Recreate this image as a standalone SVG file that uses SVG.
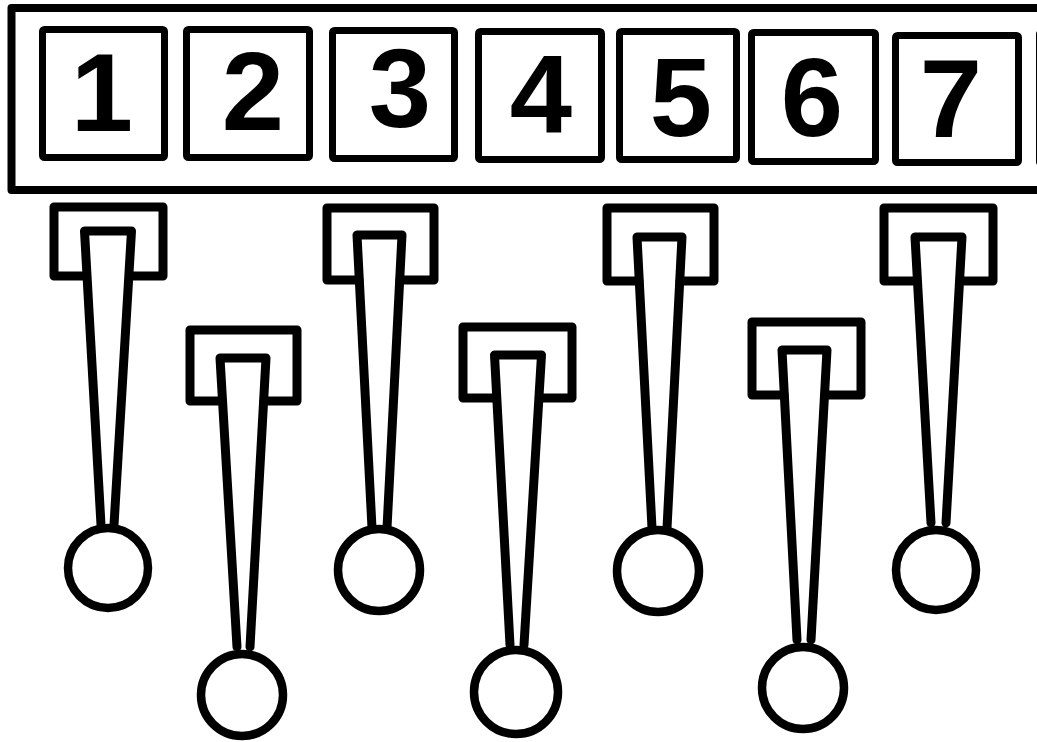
<svg xmlns="http://www.w3.org/2000/svg" width="1037" height="742" viewBox="0 0 1037 742">
<style>
.frame{fill:none;stroke:#000;stroke-width:8;stroke-linejoin:round}
.key{fill:#fff;stroke:#000;stroke-width:7;stroke-linejoin:round}
.num{font-family:"Liberation Sans",Arial,sans-serif;font-weight:bold;font-size:112px;fill:#000;text-anchor:middle}
.h{fill:none;stroke:#000;stroke-width:9;stroke-linejoin:round;stroke-linecap:round}
.ball{fill:#fff;stroke:#000;stroke-width:8.5}
</style>
<rect width="1037" height="742" fill="#fff"/>
<g id="panel">
  <rect class="frame" x="11.5" y="8" width="1060" height="182"/>
  <rect class="key" x="1039.5" y="34" width="120" height="128"/>
</g>
<g id="key1"><rect class="key" x="42.5" y="29.5" width="122" height="128" rx="2"/><text class="num" x="102" y="131">1</text></g>
<g id="key2"><rect class="key" x="186.5" y="29.5" width="123" height="128" rx="2"/><text class="num" x="253" y="130">2</text></g>
<g id="key3"><rect class="key" x="332.5" y="30.5" width="122" height="128" rx="2"/><text class="num" x="400" y="127">3</text></g>
<g id="key4"><rect class="key" x="478.5" y="31.5" width="123" height="128" rx="2"/><text class="num" x="541" y="133">4</text></g>
<g id="key5"><rect class="key" x="619.5" y="31.5" width="117" height="128" rx="2"/><text class="num" x="681" y="136">5</text></g>
<g id="key6"><rect class="key" x="751.5" y="32.5" width="124" height="129" rx="2"/><text class="num" x="812" y="136">6</text></g>
<g id="key7"><rect class="key" x="895.5" y="35.5" width="123" height="127" rx="2"/><text class="num" x="951" y="137">7</text></g>
<g id="connectors">
  <g id="hanger1">
    <path class="h" d="M86,276 L54,276 L54,207 L163,207 L163,276 L130,276"/>
    <path class="h" d="M101,525 L84.5,231 L131.5,231 L114,525"/>
    <circle class="ball" cx="108" cy="568" r="40"/>
  </g>
  <g id="hanger2">
    <path class="h" d="M222,401 L190,401 L190,330 L297,330 L297,401 L264,401"/>
    <path class="h" d="M237,647 L220,358 L266,358 L250,647"/>
    <circle class="ball" cx="242" cy="695" r="41"/>
  </g>
  <g id="hanger3">
    <path class="h" d="M359,280 L327,280 L327,208 L434,208 L434,280 L400,280"/>
    <path class="h" d="M372,528 L357,235 L402,235 L387,528"/>
    <circle class="ball" cx="379" cy="570" r="41"/>
  </g>
  <g id="hanger4">
    <path class="h" d="M496,398 L463,398 L463,327 L572,327 L572,398 L540,398"/>
    <path class="h" d="M510,645 L494.5,355 L541.5,355 L524,645"/>
    <circle class="ball" cx="516" cy="692" r="42"/>
  </g>
  <g id="hanger5">
    <path class="h" d="M639,281 L607,281 L607,208 L714,208 L714,281 L680,281"/>
    <path class="h" d="M652,528 L637,237 L682,237 L667,528"/>
    <circle class="ball" cx="658" cy="571" r="41"/>
  </g>
  <g id="hanger6">
    <path class="h" d="M784,395 L752,395 L752,322 L861,322 L861,395 L825,395"/>
    <path class="h" d="M797,640 L782,350 L827,350 L811,640"/>
    <circle class="ball" cx="803" cy="688" r="41"/>
  </g>
  <g id="hanger7">
    <path class="h" d="M917,281 L884,281 L884,208 L993,208 L993,281 L960,281"/>
    <path class="h" d="M931,523 L915,237 L962,237 L946,523"/>
    <circle class="ball" cx="936" cy="570" r="40"/>
  </g>
</g>
</svg>
